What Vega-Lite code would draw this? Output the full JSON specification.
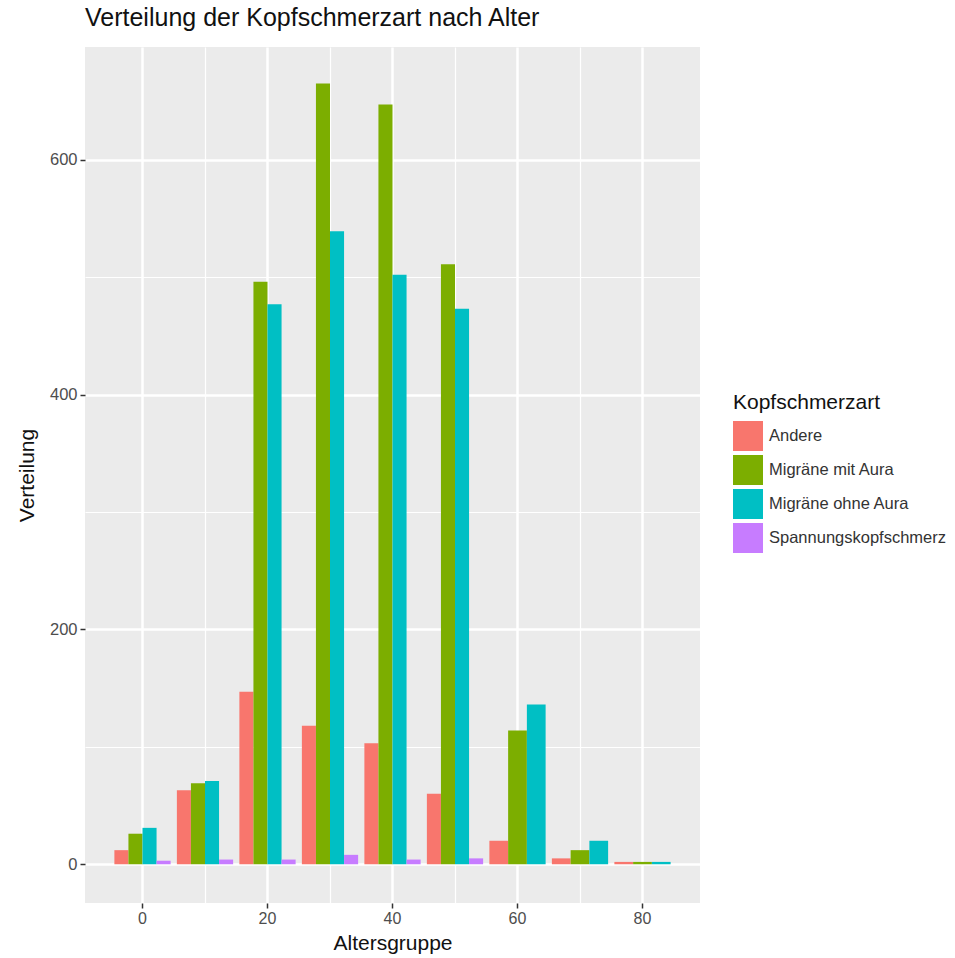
{
  "$schema": "https://vega.github.io/schema/vega-lite/v6.json",
  "autosize": "none",
  "width": 615,
  "height": 856,
  "padding": {"left": 85, "top": 47, "right": 255, "bottom": 55},
  "background": "white",
  "title": {
    "text": "Verteilung der Kopfschmerzart nach Alter",
    "anchor": "start",
    "frame": "group",
    "fontSize": 25,
    "font": "Liberation Sans",
    "fontWeight": "normal",
    "color": "#111",
    "baseline": "alphabetic",
    "offset": -4
  },
  "config": {
    "view": {"fill": "#EBEBEB", "stroke": null},
    "font": "Liberation Sans"
  },
  "data": {
    "values": [
      {"age": 0, "art": "Andere", "n": 12},
      {"age": 0, "art": "Migräne mit Aura", "n": 26},
      {"age": 0, "art": "Migräne ohne Aura", "n": 31},
      {"age": 0, "art": "Spannungskopfschmerz", "n": 3},
      {"age": 10, "art": "Andere", "n": 63},
      {"age": 10, "art": "Migräne mit Aura", "n": 69},
      {"age": 10, "art": "Migräne ohne Aura", "n": 71},
      {"age": 10, "art": "Spannungskopfschmerz", "n": 4},
      {"age": 20, "art": "Andere", "n": 147},
      {"age": 20, "art": "Migräne mit Aura", "n": 496},
      {"age": 20, "art": "Migräne ohne Aura", "n": 477},
      {"age": 20, "art": "Spannungskopfschmerz", "n": 4},
      {"age": 30, "art": "Andere", "n": 118},
      {"age": 30, "art": "Migräne mit Aura", "n": 665},
      {"age": 30, "art": "Migräne ohne Aura", "n": 539},
      {"age": 30, "art": "Spannungskopfschmerz", "n": 8},
      {"age": 40, "art": "Andere", "n": 103},
      {"age": 40, "art": "Migräne mit Aura", "n": 647},
      {"age": 40, "art": "Migräne ohne Aura", "n": 502},
      {"age": 40, "art": "Spannungskopfschmerz", "n": 4},
      {"age": 50, "art": "Andere", "n": 60},
      {"age": 50, "art": "Migräne mit Aura", "n": 511},
      {"age": 50, "art": "Migräne ohne Aura", "n": 473},
      {"age": 50, "art": "Spannungskopfschmerz", "n": 5},
      {"age": 60, "art": "Andere", "n": 20},
      {"age": 60, "art": "Migräne mit Aura", "n": 114},
      {"age": 60, "art": "Migräne ohne Aura", "n": 136},
      {"age": 70, "art": "Andere", "n": 5},
      {"age": 70, "art": "Migräne mit Aura", "n": 12},
      {"age": 70, "art": "Migräne ohne Aura", "n": 20},
      {"age": 80, "art": "Andere", "n": 2},
      {"age": 80, "art": "Migräne mit Aura", "n": 2},
      {"age": 80, "art": "Migräne ohne Aura", "n": 2}
    ]
  },
  "encoding": {
    "x": {
      "field": "age",
      "type": "ordinal",
      "scale": {"domain": [0, 10, 20, 30, 40, 50, 60, 70, 80], "paddingInner": 0.1, "paddingOuter": 0.47},
      "axis": {
        "title": "Altersgruppe",
        "labelAngle": 0,
        "bandPosition": 0.5,
        "domain": false,
        "labelExpr": "datum.value % 20 === 0 ? datum.label : ''",
        "labelFontSize": 16,
        "labelColor": "#4D4D4D",
        "labelPadding": 2,
        "tickSize": 5,
        "tickColor": "#333333",
        "tickWidth": 1.5,
        "tickOpacity": {"condition": {"test": "datum.value % 20 === 0", "value": 1}, "value": 0},
        "grid": true,
        "gridColor": "#FFFFFF",
        "gridWidth": {"condition": {"test": "datum.value % 20 === 0", "value": 2.5}, "value": 1.2},
        "titleFontSize": 21,
        "titleFontWeight": "normal",
        "titleColor": "#111",
        "titleBaseline": "middle",
        "titleY": 40
      }
    },
    "y": {
      "field": "n",
      "type": "quantitative",
      "scale": {"domain": [-33, 696], "nice": false, "zero": false},
      "axis": {
        "title": "Verteilung",
        "values": [0, 100, 200, 300, 400, 500, 600],
        "domain": false,
        "labelExpr": "datum.value % 200 === 0 ? datum.label : ''",
        "labelFontSize": 16.5,
        "labelColor": "#4D4D4D",
        "labelPadding": 3,
        "tickSize": 5,
        "tickColor": "#333333",
        "tickWidth": 1.5,
        "tickOpacity": {"condition": {"test": "datum.value % 200 === 0", "value": 1}, "value": 0},
        "grid": true,
        "gridColor": "#FFFFFF",
        "gridWidth": {"condition": {"test": "datum.value % 200 === 0", "value": 2.5}, "value": 1.2},
        "titleFontSize": 21,
        "titleFontWeight": "normal",
        "titleColor": "#111",
        "titleAngle": -90,
        "titleAlign": "center",
        "titleBaseline": "middle",
        "titleX": -58,
        "titleY": 428
      }
    },
    "y2": {"datum": 0},
    "color": {
      "field": "art",
      "type": "nominal",
      "scale": {
        "domain": ["Andere", "Migräne mit Aura", "Migräne ohne Aura", "Spannungskopfschmerz"],
        "range": ["#F8766D", "#7CAE00", "#00BFC4", "#C77CFF"]
      },
      "legend": {
        "title": "Kopfschmerzart",
        "orient": "none",
        "legendX": 648,
        "legendY": 345,
        "titleFontSize": 21,
        "titleFontWeight": "normal",
        "titleColor": "#111",
        "titlePadding": 8,
        "labelFontSize": 16.5,
        "labelColor": "#333",
        "labelOffset": 6,
        "labelLimit": 400,
        "symbolType": "square",
        "symbolSize": 900,
        "symbolStrokeWidth": 0,
        "symbolOpacity": 1,
        "rowPadding": 4
      }
    }
  },
  "layer": [
    {
      "transform": [{"filter": "datum.age <= 50"}],
      "mark": {"type": "bar"},
      "encoding": {
        "xOffset": {
          "field": "art",
          "type": "nominal",
          "scale": {"domain": ["Andere", "Migräne mit Aura", "Migräne ohne Aura", "Spannungskopfschmerz"], "paddingInner": 0, "paddingOuter": 0}
        }
      }
    },
    {
      "transform": [{"filter": "datum.age >= 60"}],
      "mark": {"type": "bar"},
      "encoding": {
        "xOffset": {
          "field": "art",
          "type": "nominal",
          "scale": {"domain": ["Andere", "Migräne mit Aura", "Migräne ohne Aura"], "paddingInner": 0, "paddingOuter": 0}
        }
      }
    }
  ],
  "resolve": {"scale": {"xOffset": "independent"}}
}
